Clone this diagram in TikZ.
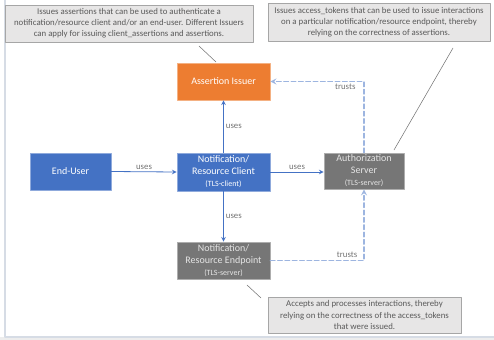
\documentclass[tikz,border=0pt]{standalone}
\usepackage{fontspec}
\setmainfont{Carlito}
\usetikzlibrary{calc}
\definecolor{oranje}{HTML}{ED7D31}
\definecolor{blauw}{HTML}{4472C4}
\definecolor{grijs}{HTML}{767676}
\definecolor{lichtblauw}{HTML}{9DB5E0}
\definecolor{notagrijs}{HTML}{E7E6E6}
\definecolor{tekstgrijs}{HTML}{595959}
\definecolor{kader}{HTML}{D6DCE5}
\begin{document}
\begin{tikzpicture}[x=0.75pt,y=-0.75pt,>=stealth,line join=round,line cap=round,
	every node/.style={font=\fontsize{7.5}{9}\selectfont},
	blok/.style={draw=#1!60!white,line width=0.5pt,fill=#1,align=center,inner sep=1pt,minimum width=69.75pt,minimum height=27.75pt},
	notitie/.style={draw=black!35,line width=0.6pt,fill=notagrijs,text=tekstgrijs,align=center,inner sep=1pt,font=\fontsize{6.6}{8.3}\selectfont},
	label/.style={text=black!55,font=\fontsize{6.6}{7}\selectfont,inner sep=1.5pt},
	gebruikt/.style={->,blauw,line width=0.6pt},
	vertrouwt/.style={->,lichtblauw,line width=1pt,dash pattern=on 3.5pt off 2pt},
	wijzer/.style={black!55,line width=0.4pt}]
	% frame of the slide
	\useasboundingbox (0,0) rectangle (494,340);
	\fill[black!7] (0,337) rectangle (494,340);
	\draw[kader,line width=0.8pt] (5,0) -- (5,337) -- (494,337);
	% boxes
	\node[blok=oranje,text=white] (AI) at (223.5,81.5) {Assertion Issuer};
	\node[blok=blauw,text=white,minimum width=60.75pt] (EU) at (70.5,171.5) {End-User};
	\node[blok=blauw,text=white,minimum height=28.5pt] (NC) at (223.5,172) {Notification/\\Resource Client\\{\fontsize{6}{7}\selectfont (TLS-client)}};
	\node[blok=grijs,text=black!10,minimum width=60pt,minimum height=27pt] (AS) at (364,171) {Authorization\\Server\\{\fontsize{6}{7}\selectfont (TLS-server)}};
	\node[blok=grijs,text=black!10] (NE) at (223.5,260.5) {Notification/\\Resource Endpoint\\{\fontsize{6}{7}\selectfont (TLS-server)}};
	% notes
	\node[notitie,minimum width=186pt,minimum height=27.75pt] (N1) at (129,23.5) {Issues assertions that can be used to authenticate a\\notification/resource client and/or an end-user. Different Issuers\\can apply for issuing client\_assertions and assertions.};
	\node[notitie,minimum width=166.5pt,minimum height=28.5pt] (N2) at (379,22) {Issues access\_tokens that can be used to issue interactions\\on a particular notification/resource endpoint, thereby\\relying on the correctness of assertions.};
	\node[notitie,minimum width=144.75pt,minimum height=27pt] (N3) at (364.5,315) {Accepts and processes interactions, thereby\\relying on the correctness of the access\_tokens\\that were issued.};
	\coordinate (w1a) at (199,46);
	\coordinate (w1b) at (216,62);
	\coordinate (w2a) at (453,48);
	\coordinate (w2b) at (394,150);
	\coordinate (w3a) at (247,285);
	\coordinate (w3b) at (261,298);
	\draw[wijzer] (w1a) -- (w1b);
	\draw[wijzer] (w2a) -- (w2b);
	\draw[wijzer] (w3a) -- (w3b);
	% connectors
	\draw[gebruikt] (EU.east) -- (NC.west) node[midway,above,label] {uses};
	\draw[gebruikt] (NC.east) -- (NC.east -| AS.west) node[midway,above,label] {uses};
	\draw[gebruikt] (NC.north) -- (AI.south) node[midway,right,label] {uses};
	\draw[gebruikt] (NC.south) -- (NE.north) node[midway,right,label] {uses};
	\draw[vertrouwt] (AS.north) |- (AI.east) node[pos=0.6,below,label] {trusts};
	\draw[vertrouwt] (NE.east) -| (AS.south) node[pos=0.41,above,label] {trusts};
\end{tikzpicture}
\end{document}
